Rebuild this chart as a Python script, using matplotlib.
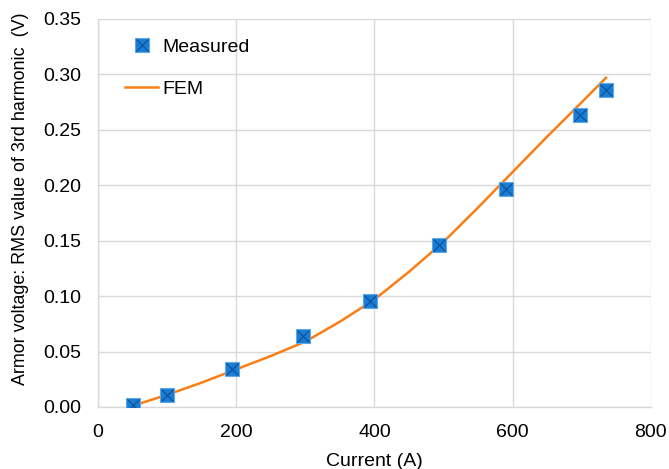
import numpy as np
import matplotlib
matplotlib.use("Agg")
import matplotlib.pyplot as plt
from matplotlib.ticker import FormatStrFormatter

# Datos medidos
current_meas = [50, 100, 194, 296, 393, 494, 591, 697, 735]
volt_meas = [0.002, 0.011, 0.034, 0.064, 0.096, 0.146, 0.197, 0.263, 0.286]

# Curva FEM
current_fem = [50, 100, 150, 200, 250, 300, 350, 400, 450, 500, 550, 600, 650, 700, 735]
volt_fem = [0.001, 0.011, 0.022, 0.034, 0.046, 0.059, 0.077, 0.097, 0.122, 0.149,
            0.180, 0.212, 0.244, 0.275, 0.297]

x_ticks = [0, 200, 400, 600, 800]
y_ticks = [0.00, 0.05, 0.10, 0.15, 0.20, 0.25, 0.30, 0.35]

plt.rcParams['font.family'] = ['Liberation Sans', 'DejaVu Sans']
plt.rcParams['font.size'] = 14

fig = plt.figure(figsize=(6.69, 4.69), dpi=100)
ax = fig.add_axes([0.1465, 0.1322, 0.8265, 0.8273])

fem_line, = ax.plot(current_fem, volt_fem, color='#FA7E14', linewidth=1.8, zorder=3)
sq, = ax.plot(current_meas, volt_meas, linestyle='none', marker='s', markersize=10,
              markerfacecolor='#1A7DD3', markeredgecolor='#5FA8E6', markeredgewidth=0.8, zorder=4)
cross, = ax.plot(current_meas, volt_meas, linestyle='none', marker='x', markersize=8.5,
                 markeredgecolor='#0B4F99', markeredgewidth=0.8, zorder=5)

ax.set_xlim(0, 800)
ax.set_ylim(0, 0.35)
ax.set_xticks(x_ticks)
ax.set_yticks(y_ticks)
ax.yaxis.set_major_formatter(FormatStrFormatter('%.2f'))
ax.tick_params(axis='y', length=0, pad=12, labelsize=14, colors='#000000')
ax.tick_params(axis='x', length=0, pad=12, labelsize=14, colors='#000000')

ax.grid(True, color='#D9D9D9', linewidth=1.0)
ax.set_axisbelow(True)
for s in ['top', 'right']:
    ax.spines[s].set_visible(False)
for s in ['left', 'bottom']:
    ax.spines[s].set_color('#D9D9D9')
    ax.spines[s].set_linewidth(1.0)

ax.set_xlabel("Current (A)", fontsize=14)
ax.xaxis.set_label_coords(0.5, -0.118)
ax.set_ylabel("Armor voltage: RMS value of 3rd harmonic  (V)", fontsize=12.9)
ax.yaxis.set_label_coords(-0.125, 0.537)

ax.legend([(sq, cross), fem_line], ["Measured", "FEM"], loc='upper left',
          bbox_to_anchor=(0.049, 0.95), frameon=False, fontsize=14,
          borderaxespad=0, borderpad=0,
          handlelength=1.7, handletextpad=0.2, labelspacing=1.26)

fig.savefig("out.png", dpi=100)
